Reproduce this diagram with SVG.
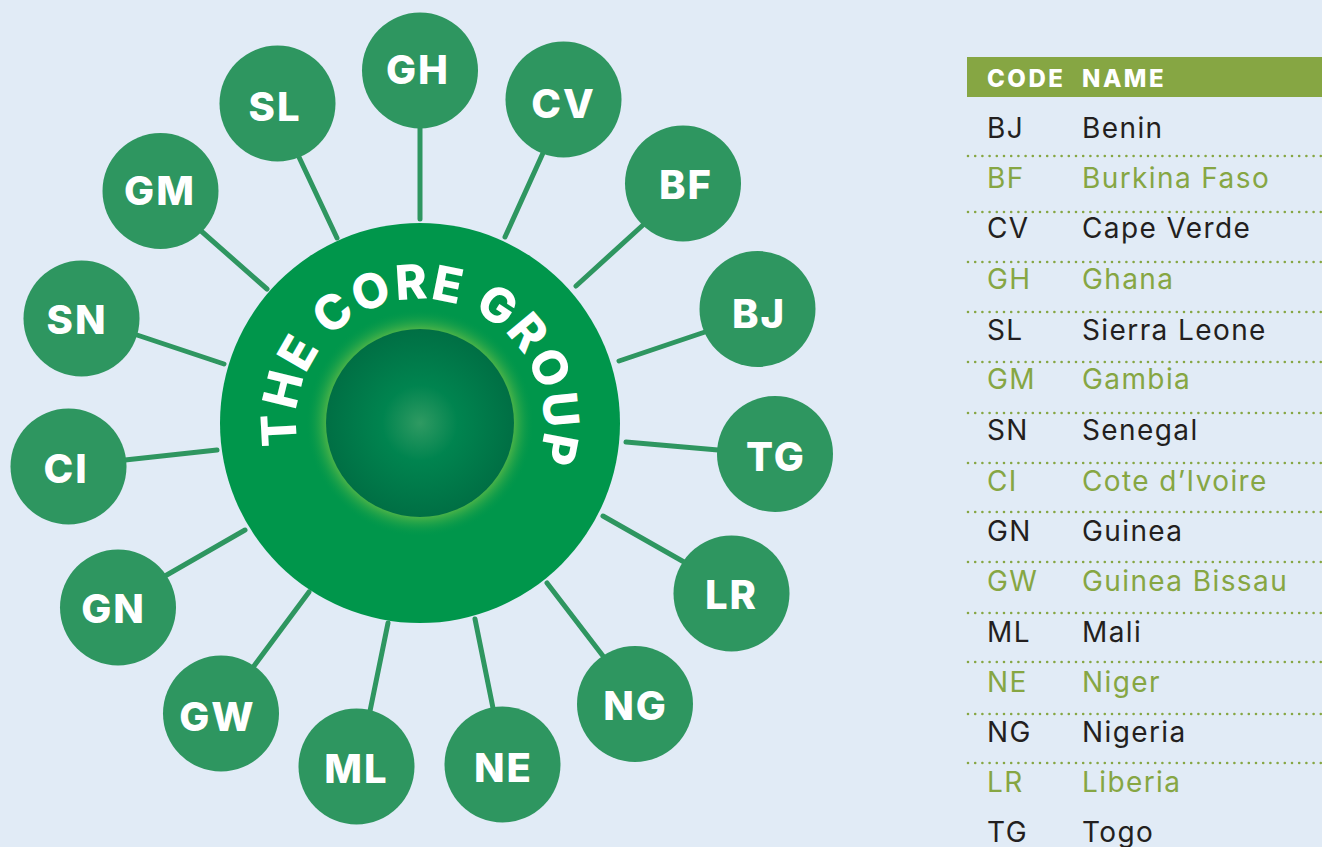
<svg xmlns="http://www.w3.org/2000/svg" width="1322" height="847" viewBox="0 0 1322 847">
<style>
.node{fill:#2e9660}
.lbl{font-family:Inter,"Liberation Sans",sans-serif;font-weight:800;font-size:40px;fill:#fff;text-anchor:middle;letter-spacing:2px}
.conn line{stroke:#2e9660;stroke-width:5;stroke-linecap:round}
.row{font-family:Inter,"Liberation Sans",sans-serif;font-size:28px;letter-spacing:1.4px}
.k{fill:#231f20}
.g{fill:#86a643}
.dot{stroke:#86a643;stroke-width:2.6;stroke-linecap:round;stroke-dasharray:0 7.2}
.hdr{font-family:Inter,"Liberation Sans",sans-serif;font-weight:800;font-size:24px;fill:#fff;letter-spacing:2.5px}
</style>
<defs>
<radialGradient id="halo" cx="420" cy="423" r="114" gradientUnits="userSpaceOnUse">
<stop offset="0.8" stop-color="#5cba47" stop-opacity="1"/>
<stop offset="1" stop-color="#00964b" stop-opacity="0"/>
</radialGradient>
<radialGradient id="core" cx="420" cy="423" r="94" gradientUnits="userSpaceOnUse">
<stop offset="0" stop-color="#2f9a62"/>
<stop offset="0.4" stop-color="#00844f"/>
<stop offset="1" stop-color="#006f44"/>
</radialGradient>
<path id="arc" d="M298.08 445.6 A124 124 0 1 1 537.93 461.32"/>
</defs>
<rect width="1322" height="847" fill="#e1ebf6"/>

<g id="connectors" class="conn">
<line x1="420" y1="128" x2="420" y2="219"/>
<line x1="298" y1="155" x2="337" y2="238"/>
<line x1="200" y1="230" x2="267" y2="289"/>
<line x1="137" y1="335" x2="224" y2="364"/>
<line x1="125" y1="460" x2="217" y2="450"/>
<line x1="165" y1="576" x2="245" y2="530"/>
<line x1="254" y1="666" x2="309" y2="592"/>
<line x1="370" y1="711" x2="388" y2="623"/>
<line x1="493" y1="708" x2="475" y2="619"/>
<line x1="603" y1="656" x2="547" y2="583"/>
<line x1="684" y1="562" x2="603" y2="516"/>
<line x1="718" y1="450" x2="626" y2="442"/>
<line x1="705" y1="332" x2="619" y2="361"/>
<line x1="643" y1="225" x2="576" y2="286"/>
<line x1="543" y1="153" x2="505" y2="237"/>
</g>

<g id="core-group">
<circle cx="420" cy="423" r="200" fill="#00964b"/>
<circle cx="420" cy="423" r="114" fill="url(#halo)"/>
<circle cx="420" cy="423" r="94" fill="url(#core)"/>
<text font-family="Inter,'Liberation Sans',sans-serif" font-weight="800" font-size="48" fill="#fff"><textPath href="#arc" textLength="451" lengthAdjust="spacing">THE CORE GROUP</textPath></text>
</g>

<g id="node-GH"><circle class="node" cx="420" cy="70.5" r="58"/><text class="lbl" x="418" y="84">GH</text></g>
<g id="node-SL"><circle class="node" cx="277.5" cy="103.5" r="58"/><text class="lbl" x="275" y="121">SL</text></g>
<g id="node-GM"><circle class="node" cx="160.5" cy="191" r="58"/><text class="lbl" x="160" y="205">GM</text></g>
<g id="node-SN"><circle class="node" cx="81.5" cy="318.5" r="58"/><text class="lbl" x="77" y="334">SN</text></g>
<g id="node-CI"><circle class="node" cx="68.5" cy="466.5" r="58"/><text class="lbl" x="66" y="483">CI</text></g>
<g id="node-GN"><circle class="node" cx="118" cy="607.5" r="58"/><text class="lbl" x="113.5" y="623">GN</text></g>
<g id="node-GW"><circle class="node" cx="221" cy="713.5" r="58"/><text class="lbl" x="217.5" y="731">GW</text></g>
<g id="node-ML"><circle class="node" cx="356.5" cy="766.5" r="58"/><text class="lbl" x="356.5" y="783">ML</text></g>
<g id="node-NE"><circle class="node" cx="502.5" cy="764.5" r="58"/><text class="lbl" x="503.5" y="782">NE</text></g>
<g id="node-NG"><circle class="node" cx="635" cy="704" r="58"/><text class="lbl" x="635.5" y="720">NG</text></g>
<g id="node-LR"><circle class="node" cx="731.5" cy="593.5" r="58"/><text class="lbl" x="731.5" y="609">LR</text></g>
<g id="node-TG"><circle class="node" cx="775" cy="454" r="58"/><text class="lbl" x="776" y="471">TG</text></g>
<g id="node-BJ"><circle class="node" cx="757.5" cy="309" r="58"/><text class="lbl" x="759" y="328">BJ</text></g>
<g id="node-BF"><circle class="node" cx="683" cy="183.5" r="58"/><text class="lbl" x="686" y="199">BF</text></g>
<g id="node-CV"><circle class="node" cx="563.5" cy="99.5" r="58"/><text class="lbl" x="563.5" y="118">CV</text></g>

<g id="table">
<rect x="967" y="57" width="355" height="40" fill="#86a643"/>
<text class="hdr" x="987" y="87">CODE</text>
<text class="hdr" x="1082" y="87">NAME</text>
<g>
<line class="dot" x1="968" y1="156" x2="1322" y2="156"/>
<line class="dot" x1="968" y1="212" x2="1322" y2="212"/>
<line class="dot" x1="968" y1="262" x2="1322" y2="262"/>
<line class="dot" x1="968" y1="312" x2="1322" y2="312"/>
<line class="dot" x1="968" y1="362" x2="1322" y2="362"/>
<line class="dot" x1="968" y1="413" x2="1322" y2="413"/>
<line class="dot" x1="968" y1="463" x2="1322" y2="463"/>
<line class="dot" x1="968" y1="512" x2="1322" y2="512"/>
<line class="dot" x1="968" y1="562" x2="1322" y2="562"/>
<line class="dot" x1="968" y1="613" x2="1322" y2="613"/>
<line class="dot" x1="968" y1="662" x2="1322" y2="662"/>
<line class="dot" x1="968" y1="714" x2="1322" y2="714"/>
<line class="dot" x1="968" y1="763" x2="1322" y2="763"/>
</g>
<g class="row">
<text class="k" x="987" y="138">BJ</text><text class="k" x="1082" y="138">Benin</text>
<text class="g" x="987" y="188">BF</text><text class="g" x="1082" y="188">Burkina Faso</text>
<text class="k" x="987" y="238">CV</text><text class="k" x="1082" y="238">Cape Verde</text>
<text class="g" x="987" y="289">GH</text><text class="g" x="1082" y="289">Ghana</text>
<text class="k" x="987" y="340">SL</text><text class="k" x="1082" y="340">Sierra Leone</text>
<text class="g" x="987" y="389">GM</text><text class="g" x="1082" y="389">Gambia</text>
<text class="k" x="987" y="440">SN</text><text class="k" x="1082" y="440">Senegal</text>
<text class="g" x="987" y="491">CI</text><text class="g" x="1082" y="491">Cote d’Ivoire</text>
<text class="k" x="987" y="541">GN</text><text class="k" x="1082" y="541">Guinea</text>
<text class="g" x="987" y="591">GW</text><text class="g" x="1082" y="591">Guinea Bissau</text>
<text class="k" x="987" y="642">ML</text><text class="k" x="1082" y="642">Mali</text>
<text class="g" x="987" y="692">NE</text><text class="g" x="1082" y="692">Niger</text>
<text class="k" x="987" y="742">NG</text><text class="k" x="1082" y="742">Nigeria</text>
<text class="g" x="987" y="792">LR</text><text class="g" x="1082" y="792">Liberia</text>
<text class="k" x="987" y="842">TG</text><text class="k" x="1082" y="842">Togo</text>
</g>
</g>
</svg>
